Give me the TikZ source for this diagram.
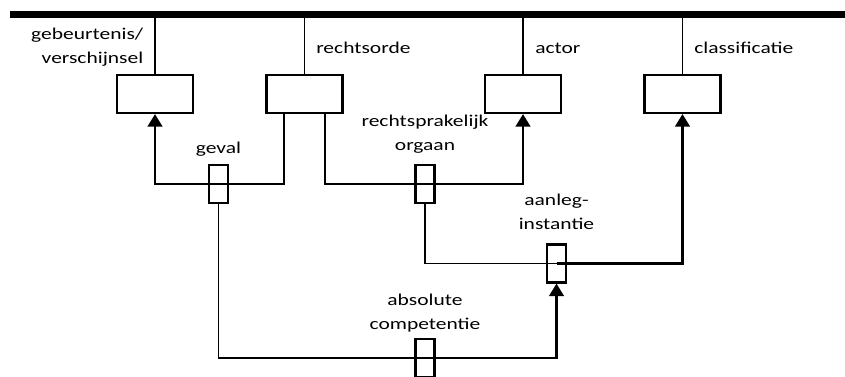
\documentclass[tikz,border=0pt]{standalone}
\usepackage{fontspec}
\setmainfont{Carlito}[FakeStretch=1.3]
\usetikzlibrary{arrows.meta,positioning}

\begin{document}
\begin{tikzpicture}[x=0.75pt,y=-0.75pt]
\tikzstyle{entity}=[draw,line width=1.6pt,minimum width=57pt,minimum height=28.5pt,inner sep=0pt]
\tikzstyle{relation}=[draw,line width=1.6pt,minimum width=14.25pt,minimum height=28.5pt,inner sep=0pt]
\tikzstyle{txt}=[inner sep=0pt,align=center,font=\fontsize{12.4}{18}\selectfont]
\tikzstyle{link}=[line width=1.3pt]
\tikzstyle{arrowlink}=[line width=2pt,-{Triangle[length=9.5pt,width=11pt]}]
\useasboundingbox (0,0) rectangle (845,376);

% top bar
\draw[line width=5pt] (10,14.5) coordinate (barleft) -- (845,14.5);

% entity boxes
\node[entity] (gebeurtenis) at (155,94) {};
\node[entity] (rechtsorde) at (304.5,94) {};
\node[entity] (actor) at (523,94) {};
\node[entity] (classificatie) at (682.5,94) {};
\foreach \e in {gebeurtenis,rechtsorde,actor,classificatie}
	\draw[link] (\e.north) -- (\e.north |- barleft);

\node[txt,anchor=east,align=right] at (143.5,47) {gebeurtenis/\\verschijnsel};
\node[txt,anchor=base west] at (316,53) {rechtsorde};
\node[txt,anchor=base west] at (535,53) {actor};
\node[txt,anchor=base west] at (694,53) {classificatie};

% relation boxes
\node[relation] (geval) at (218.5,184) {};
\node[relation] (orgaan) at (425,184) {};
\node[relation] (aanleg) at (556.5,263.5) {};
\node[relation] (competentie) at (425,358) {};

\node[txt,above=5.5pt of geval] {geval};
\node[txt,above=7.5pt of orgaan] {rechtsprakelijk\\orgaan};
\node[txt,above=10.5pt of aanleg] {aanleg-\\instantie};
\node[txt,above=4pt of competentie] {absolute\\competentie};

% connectors
\draw[arrowlink] (geval.center) -| (gebeurtenis.south);
\draw[link] (geval.center) -| ([xshift=-15.4pt]rechtsorde.south);
\draw[link] (orgaan.center) -| ([xshift=15.4pt]rechtsorde.south);
\draw[arrowlink] (orgaan.center) -| (actor.south);
\draw[link] (aanleg.center) -| (orgaan.south);
\draw[arrowlink] (aanleg.center) -| (classificatie.south);
\draw[link] (competentie.center) -| (geval.south);
\draw[arrowlink] (competentie.center) -| (aanleg.south);
\end{tikzpicture}
\end{document}
